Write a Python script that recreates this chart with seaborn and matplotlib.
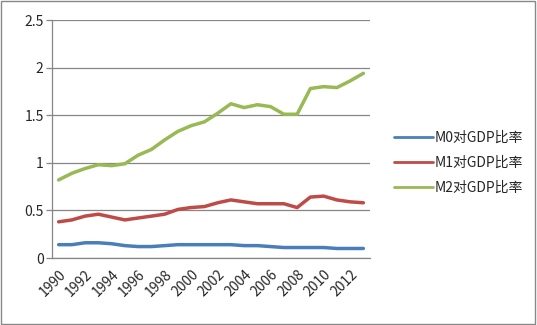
import matplotlib
matplotlib.use("Agg")
import matplotlib.pyplot as plt
import seaborn as sns
import pandas as pd
import numpy as np
from matplotlib.patches import Rectangle

years = list(range(1990, 2014))
m0 = [0.14, 0.14, 0.16, 0.16, 0.15, 0.13, 0.12, 0.12, 0.13, 0.14, 0.14, 0.14,
      0.14, 0.14, 0.13, 0.13, 0.12, 0.11, 0.11, 0.11, 0.11, 0.10, 0.10, 0.10]
m1 = [0.38, 0.40, 0.44, 0.46, 0.43, 0.40, 0.42, 0.44, 0.46, 0.51, 0.53, 0.54,
      0.58, 0.61, 0.59, 0.57, 0.57, 0.57, 0.53, 0.64, 0.65, 0.61, 0.59, 0.58]
m2 = [0.82, 0.89, 0.94, 0.98, 0.97, 0.99, 1.08, 1.14, 1.24, 1.33, 1.39, 1.43,
      1.52, 1.62, 1.58, 1.61, 1.59, 1.51, 1.51, 1.78, 1.80, 1.79, 1.86, 1.94]
series_names = ["M0对GDP比率", "M1对GDP比率", "M2对GDP比率"]
colors = ["#4a7ebb", "#be4b48", "#98b954"]
yticks = [0, 0.5, 1, 1.5, 2, 2.5]
ytick_labels = ["0", "0.5", "1", "1.5", "2", "2.5"]

sns.set_theme(style="white")
plt.rcParams['font.family'] = ['Noto Sans CJK SC', 'DejaVu Sans']

pos = list(range(len(years)))
df = pd.DataFrame({
    "pos": pos * 3,
    "value": m0 + m1 + m2,
    "series": [series_names[0]] * len(years) + [series_names[1]] * len(years) + [series_names[2]] * len(years),
})

fig = plt.figure(figsize=(5.37, 3.25), dpi=100)
ax = fig.add_axes([52 / 537, 1 - 258 / 325, (370 - 52) / 537, (258 - 20) / 325])
sns.lineplot(data=df, x="pos", y="value", hue="series", palette=colors,
             linewidth=2.5, ax=ax, legend=True)

ax.set_xlim(-0.5, len(years) - 0.5)
ax.set_ylim(0, 2.5)
ax.set_yticks(yticks)
ax.set_yticklabels(ytick_labels, fontsize=10)
ax.yaxis.grid(True, color="#868686", linewidth=0.9)
ax.xaxis.grid(False)
ax.set_xlabel("")
ax.set_ylabel("")

ax.set_xticks(pos[::2])
ax.set_xticklabels([str(y) for y in years[::2]], rotation=45, ha="right",
                   rotation_mode="anchor", fontsize=10)
ax.set_xticks(np.arange(-0.5, len(years), 1), minor=True)
ax.tick_params(axis="x", which="major", length=0, pad=7)
ax.tick_params(axis="x", which="minor", length=5, color="#868686", width=0.9)
ax.tick_params(axis="y", which="major", length=4, color="#868686", width=0.9, left=True, pad=2)

for s in ["top", "right"]:
    ax.spines[s].set_visible(False)
for s in ["left", "bottom"]:
    ax.spines[s].set_color("#868686")
    ax.spines[s].set_linewidth(0.9)

leg = ax.legend(loc="center left", bbox_to_anchor=(1.035, 0.40), frameon=False,
                fontsize=10, handlelength=2.8, handletextpad=0.15, labelspacing=0.8)
for line in leg.get_lines():
    line.set_linewidth(2.0)

fig.patches.append(Rectangle((0.002, 0.003), 0.995, 0.993, transform=fig.transFigure,
                             fill=False, edgecolor="#888888", linewidth=1))

fig.savefig("out.png", dpi=100)
